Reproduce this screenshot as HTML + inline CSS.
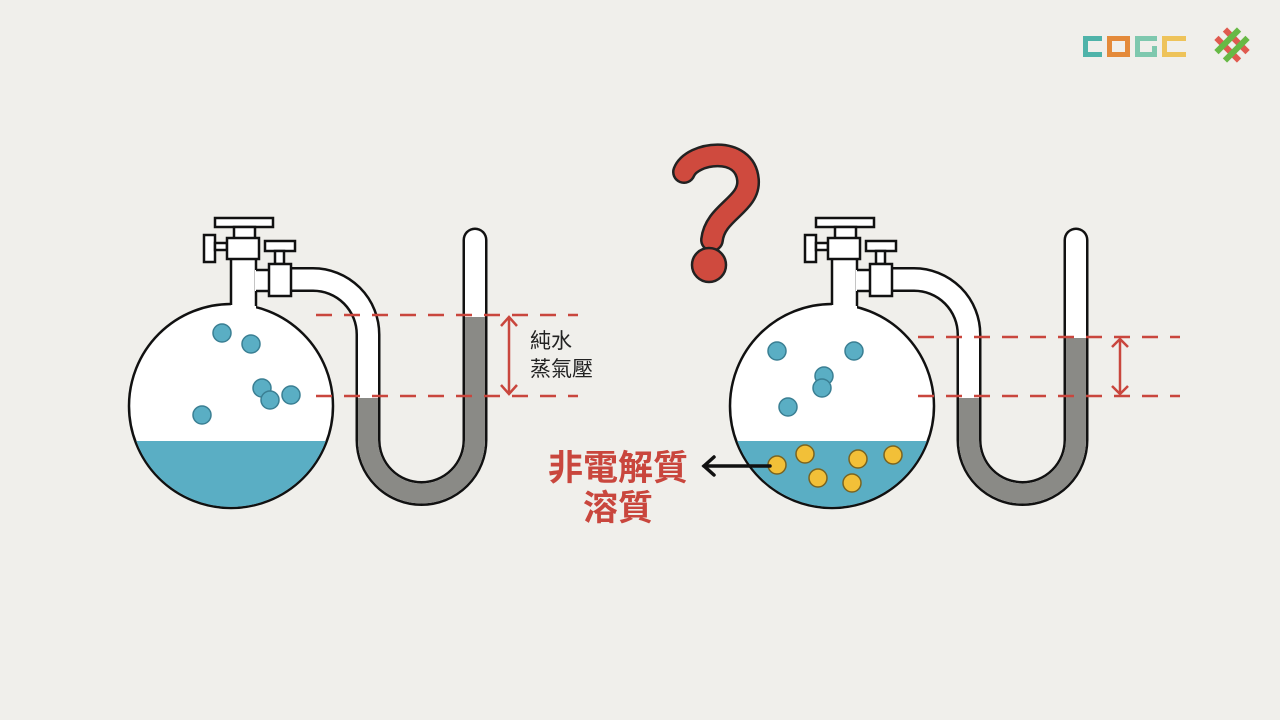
<!DOCTYPE html>
<html><head><meta charset="utf-8"><style>
html,body{margin:0;padding:0;background:#f0efeb;}
svg{display:block}
</style></head><body>
<svg width="1280" height="720" viewBox="0 0 1280 720" xmlns="http://www.w3.org/2000/svg">
<rect width="1280" height="720" fill="#f0efeb"/>
<defs>
<g id="app">
  <!-- U tube -->
  <path d="M285 279.5 H313 A55 55 0 0 1 368 334.5 V440 A53.5 53.5 0 0 0 475 440 V240" fill="none" stroke="#111" stroke-width="25"/>
  <circle cx="475" cy="240" r="12.5" fill="#111"/>
  <path d="M285 279.5 H313 A55 55 0 0 1 368 334.5 V440 A53.5 53.5 0 0 0 475 440 V240" fill="none" stroke="#fff" stroke-width="20"/>
  <circle cx="475" cy="240" r="10" fill="#fff"/>
  <!-- flask -->
  <circle cx="231" cy="406" r="102" fill="#fff" stroke="#111" stroke-width="2.5"/>
  <rect x="231" y="242" width="25" height="70" fill="#fff"/>
  <line x1="231" y1="242" x2="231" y2="305" stroke="#111" stroke-width="2.5"/>
  <line x1="256" y1="242" x2="256" y2="306" stroke="#111" stroke-width="2.5"/>
  <!-- side arm -->
  <rect x="255" y="270" width="16" height="21" fill="#fff"/>
  <line x1="256" y1="270" x2="270" y2="270" stroke="#111" stroke-width="2.5"/>
  <line x1="256" y1="291" x2="270" y2="291" stroke="#111" stroke-width="2.5"/>
  <!-- main stopcock -->
  <rect x="215" y="218" width="58" height="9" fill="#fff" stroke="#111" stroke-width="2.5"/>
  <rect x="234" y="227" width="21" height="12" fill="#fff" stroke="#111" stroke-width="2.5"/>
  <rect x="204" y="235" width="11" height="27" fill="#fff" stroke="#111" stroke-width="2.5"/>
  <rect x="215" y="243" width="12" height="7" fill="#fff" stroke="#111" stroke-width="2.5"/>
  <rect x="227" y="238" width="32" height="21" fill="#fff" stroke="#111" stroke-width="2.5"/>
  <!-- side stopcock -->
  <rect x="265" y="241" width="30" height="10" fill="#fff" stroke="#111" stroke-width="2.5"/>
  <rect x="275" y="251" width="9" height="13" fill="#fff" stroke="#111" stroke-width="2.5"/>
  <rect x="269" y="264" width="22" height="32" fill="#fff" stroke="#111" stroke-width="2.5"/>
</g>
</defs>

<!-- LEFT -->
<use href="#app"/>
<path d="M136.3 441 H325.7 A101 101 0 0 1 136.3 441 Z" fill="#5aaec4"/>
<path d="M368 398 V440 A53.5 53.5 0 0 0 475 440 V317" fill="none" stroke="#8a8a86" stroke-width="20"/>
<g fill="#5aaec4" stroke="#3a7f93" stroke-width="1.5">
<circle cx="222" cy="333" r="9"/><circle cx="251" cy="344" r="9"/><circle cx="262" cy="388" r="9"/><circle cx="270" cy="400" r="9"/><circle cx="291" cy="395" r="9"/><circle cx="202" cy="415" r="9"/>
</g>
<g stroke="#c9463d" stroke-width="2.5" stroke-dasharray="16 12">
<line x1="316" y1="315" x2="578" y2="315"/><line x1="316" y1="396" x2="578" y2="396"/>
</g>
<g stroke="#c9463d" stroke-width="2.5" fill="none">
<line x1="509" y1="317" x2="509" y2="394"/>
<polyline points="501,326 509,317 517,326"/><polyline points="501,385 509,394 517,385"/>
</g>
<text x="530" y="348" font-family="Liberation Sans, Noto Sans CJK TC, sans-serif" font-size="21" fill="#222">純水</text>
<text x="530" y="376" font-family="Liberation Sans, Noto Sans CJK TC, sans-serif" font-size="21" fill="#222">蒸氣壓</text>

<!-- RIGHT -->
<use href="#app" x="601"/>
<path d="M737.3 441 H926.7 A101 101 0 0 1 737.3 441 Z" fill="#5aaec4"/>
<path d="M969 398 V440 A53.5 53.5 0 0 0 1076 440 V338" fill="none" stroke="#8a8a86" stroke-width="20"/>
<g fill="#5aaec4" stroke="#3a7f93" stroke-width="1.5">
<circle cx="777" cy="351" r="9"/><circle cx="854" cy="351" r="9"/><circle cx="824" cy="376" r="9"/><circle cx="822" cy="388" r="9"/><circle cx="788" cy="407" r="9"/>
</g>
<g fill="#f2c038" stroke="#7a6420" stroke-width="1.5">
<circle cx="777" cy="465" r="9"/><circle cx="805" cy="454" r="9"/><circle cx="858" cy="459" r="9"/><circle cx="893" cy="455" r="9"/><circle cx="818" cy="478" r="9"/><circle cx="852" cy="483" r="9"/>
</g>
<g stroke="#c9463d" stroke-width="2.5" stroke-dasharray="16 12">
<line x1="918" y1="337" x2="1180" y2="337"/><line x1="918" y1="396" x2="1180" y2="396"/>
</g>
<g stroke="#c9463d" stroke-width="2.5" fill="none">
<line x1="1120" y1="339" x2="1120" y2="394"/>
<polyline points="1112,347 1120,339 1128,347"/><polyline points="1112,386 1120,394 1128,386"/>
</g>

<!-- label + arrow -->
<g stroke="#111" stroke-width="3.5" fill="none" stroke-linecap="round">
<line x1="704" y1="466" x2="770" y2="466"/><polyline points="714,457 704,466 714,475"/>
</g>
<text x="618" y="480" text-anchor="middle" font-family="Liberation Sans, Noto Sans CJK TC, sans-serif" font-size="35" font-weight="bold" fill="#c9463d">非電解質</text>
<text x="618" y="520" text-anchor="middle" font-family="Liberation Sans, Noto Sans CJK TC, sans-serif" font-size="35" font-weight="bold" fill="#c9463d">溶質</text>

<!-- question mark -->
<path d="M684 172 C692 152 745 145 748 180 C750 205 715 212 712 240" fill="none" stroke="#222" stroke-width="24" stroke-linecap="round"/>
<path d="M684 172 C692 152 745 145 748 180 C750 205 715 212 712 240" fill="none" stroke="#cf4a3e" stroke-width="19" stroke-linecap="round"/>
<circle cx="709" cy="265" r="17" fill="#cf4a3e" stroke="#222" stroke-width="2.5"/>

<!-- logo -->
<g>
<path d="M1083 36 H1102 V41 H1088 V52 H1102 V57 H1083 Z" fill="#4fb3a9"/>
<path d="M1107 36 H1130 V57 H1107 Z M1112 41 V52 H1125 V41 Z" fill="#e48a3a" fill-rule="evenodd"/>
<path d="M1135 36 H1157 V41 H1140 V52 H1152 V46 H1157 V57 H1135 Z" fill="#7ec8ae"/>
<path d="M1162 36 H1186 V41 H1167 V52 H1186 V57 H1162 Z" fill="#eec35a"/>
</g>
<g transform="translate(1232,45) rotate(45)">
<rect x="-16" y="-9" width="32" height="6" fill="#e05a4f"/>
<rect x="-16" y="3" width="32" height="6" fill="#e05a4f"/>
<rect x="-9" y="-16" width="6" height="32" fill="#67b945"/>
<rect x="3" y="-16" width="6" height="32" fill="#67b945"/>
</g>
</svg>
</body></html>
